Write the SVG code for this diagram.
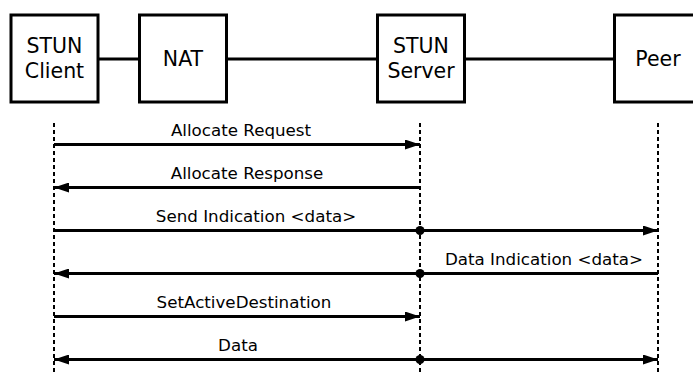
<svg xmlns="http://www.w3.org/2000/svg" width="693" height="374" viewBox="0 0 693 374">
<defs>
<style>
.box{fill:#fff;stroke:#000;stroke-width:3}
.bt{font-family:"DejaVu Sans",sans-serif;font-size:20.5px;text-anchor:middle;fill:#000}
.lt{font-family:"DejaVu Sans",sans-serif;font-size:16.7px;text-anchor:middle;fill:#000}
.life{stroke:#000;stroke-width:2;stroke-dasharray:4 3;fill:none}
.msg{stroke:#000;stroke-width:3;fill:none}
.link{stroke:#000;stroke-width:3;fill:none}
</style>
<marker id="ah" viewBox="0 0 15 10" refX="15" refY="5" markerWidth="15" markerHeight="10" markerUnits="userSpaceOnUse" orient="auto-start-reverse">
<path d="M0,0 L15,5 L0,10 Z" fill="#000"/>
</marker>
</defs>
<rect width="693" height="374" fill="#fff"/>
<g id="links">
<line class="link" x1="98" y1="59" x2="139" y2="59"/>
<line class="link" x1="227" y1="59" x2="377" y2="59"/>
<line class="link" x1="464" y1="59" x2="614" y2="59"/>
</g>
<g id="client">
<rect class="box" x="11" y="15" width="87" height="87"/>
<text class="bt" x="54.5" y="53">STUN</text>
<text class="bt" x="54.5" y="78">Client</text>
</g>
<g id="nat">
<rect class="box" x="139.5" y="15" width="87" height="87"/>
<text class="bt" x="183" y="66">NAT</text>
</g>
<g id="server">
<rect class="box" x="377.5" y="15" width="87" height="87"/>
<text class="bt" x="421" y="53">STUN</text>
<text class="bt" x="421" y="78">Server</text>
</g>
<g id="peer">
<rect class="box" x="614.5" y="15" width="87" height="87"/>
<text class="bt" x="658" y="66">Peer</text>
</g>
<g id="lifelines">
<line class="life" x1="54" y1="123" x2="54" y2="374"/>
<line class="life" x1="420" y1="123" x2="420" y2="374"/>
<line class="life" x1="658" y1="123" x2="658" y2="374"/>
</g>
<g id="connectors">
<line class="msg" x1="54" y1="144.5" x2="420" y2="144.5" marker-end="url(#ah)"/>
<text class="lt" x="241" y="136">Allocate Request</text>
<line class="msg" x1="420" y1="187.5" x2="54" y2="187.5" marker-end="url(#ah)"/>
<text class="lt" x="247" y="179">Allocate Response</text>
<line class="msg" x1="54" y1="230.5" x2="658" y2="230.5" marker-end="url(#ah)"/>
<circle cx="420" cy="230.5" r="4.5"/>
<text class="lt" x="256" y="222">Send Indication &lt;data&gt;</text>
<line class="msg" x1="658" y1="273.5" x2="54" y2="273.5" marker-end="url(#ah)"/>
<circle cx="420" cy="273.5" r="4.5"/>
<text class="lt" x="544" y="265">Data Indication &lt;data&gt;</text>
<line class="msg" x1="54" y1="316.5" x2="420" y2="316.5" marker-end="url(#ah)"/>
<text class="lt" x="244" y="308">SetActiveDestination</text>
<line class="msg" x1="54" y1="359.5" x2="658" y2="359.5" marker-start="url(#ah)" marker-end="url(#ah)"/>
<circle cx="420" cy="359.5" r="4.5"/>
<text class="lt" x="238" y="351">Data</text>
</g>
</svg>
